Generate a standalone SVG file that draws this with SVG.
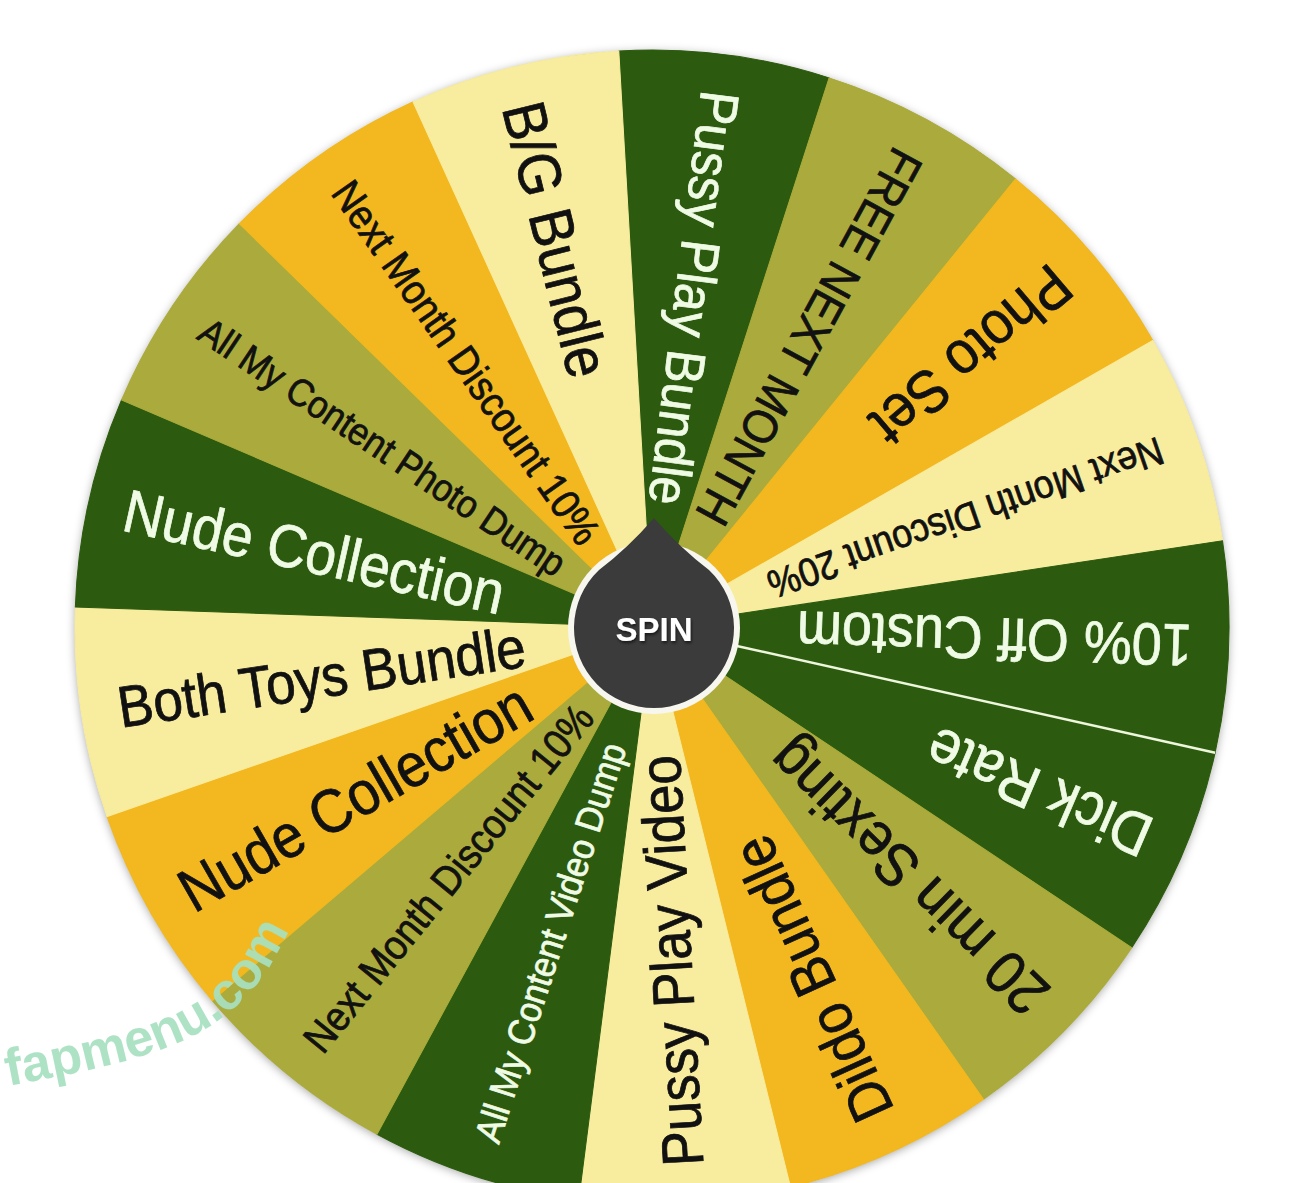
<svg xmlns="http://www.w3.org/2000/svg" width="1298" height="1183" viewBox="0 0 1298 1183">
  <style>
    .lbl text { font-family: "Liberation Sans", Arial, sans-serif; stroke-width: 0.7; }
    .dk { fill: #f0fbe6; stroke: #f0fbe6; }
    .bk { fill: #111111; stroke: #111111; }
    .s-dg { fill: #2c5b10; stroke: #2c5b10; stroke-width: 1; }
    .s-ol { fill: #abab3d; stroke: #abab3d; stroke-width: 1; }
    .s-or { fill: #f3b81f; stroke: #f3b81f; stroke-width: 1; }
    .s-ly { fill: #f8ec9f; stroke: #f8ec9f; stroke-width: 1; }
  </style>
  <defs>
    <path id="wedge" d="M0 0 L0 -577 A577 577 0 0 1 208.44 -538.04 Z"/>
    <filter id="wshadow" x="-10%" y="-10%" width="120%" height="120%">
      <feDropShadow dx="0" dy="2" stdDeviation="5" flood-color="#000" flood-opacity="0.35"/>
    </filter>
    <filter id="tshadow" x="-20%" y="-40%" width="140%" height="180%">
      <feDropShadow dx="1" dy="2" stdDeviation="1.5" flood-color="#000" flood-opacity="0.6"/>
    </filter>
    <path id="wm" d="M 8 1086 C 170 1055 250 1040 300 902"/>
  </defs>
  <rect width="1298" height="1183" fill="#ffffff"/>

  <g id="wheel">
    <circle cx="652" cy="627" r="577" fill="#abab3d" filter="url(#wshadow)"/>
    <g id="slices" transform="translate(652 627)">
      <use href="#wedge" class="s-dg" transform="rotate(-3.3)"/>
      <use href="#wedge" class="s-ol" transform="rotate(17.876)"/>
      <use href="#wedge" class="s-or" transform="rotate(39.053)"/>
      <use href="#wedge" class="s-ly" transform="rotate(60.229)"/>
      <use href="#wedge" class="s-dg" transform="rotate(81.406)"/>
      <use href="#wedge" class="s-dg" transform="rotate(102.582)"/>
      <use href="#wedge" class="s-ol" transform="rotate(123.759)"/>
      <use href="#wedge" class="s-or" transform="rotate(144.935)"/>
      <use href="#wedge" class="s-ly" transform="rotate(166.112)"/>
      <use href="#wedge" class="s-dg" transform="rotate(187.288)"/>
      <use href="#wedge" class="s-ol" transform="rotate(208.465)"/>
      <use href="#wedge" class="s-or" transform="rotate(229.641)"/>
      <use href="#wedge" class="s-ly" transform="rotate(250.818)"/>
      <use href="#wedge" class="s-dg" transform="rotate(271.994)"/>
      <use href="#wedge" class="s-ol" transform="rotate(293.171)"/>
      <use href="#wedge" class="s-or" transform="rotate(314.347)"/>
      <use href="#wedge" class="s-ly" transform="rotate(335.524)"/>
    </g>
  </g>

  <g id="connectors">
    <line x1="0" y1="-80" x2="0" y2="-577" stroke="#eef6dc" stroke-width="2.5" transform="translate(652 627) rotate(102.582)"/>
  </g>

  <g id="labels" class="lbl">
    <g id="n0" transform="translate(652 627) rotate(97.29) scale(1 1.1)"><text class="dk" x="-540" y="0" dy="0.35em" font-size="50">Pussy Play Bundle</text></g>
    <g id="n1" transform="translate(652 627) rotate(118.46) scale(1 1.1)"><text class="bk" x="-540" y="0" dy="0.35em" font-size="44">FREE NEXT MONTH</text></g>
    <g id="n2" transform="translate(652 627) rotate(139.64) scale(1 1.1)"><text class="bk" x="-540" y="0" dy="0.35em" font-size="55">Photo Set</text></g>
    <g id="n3" transform="translate(652 627) rotate(160.82) scale(1 1.1)"><text class="bk" x="-540" y="0" dy="0.35em" font-size="36">Next Month Discount 20%</text></g>
    <g id="n4" transform="translate(652 627) rotate(181.99) scale(1 1.1)"><text class="dk" x="-540" y="0" dy="0.35em" font-size="54">10% Off Custom</text></g>
    <g id="n5" transform="translate(652 627) rotate(203.17) scale(1 1.1)"><text class="dk" x="-540" y="0" dy="0.35em" font-size="55">Dick Rate</text></g>
    <g id="n6" transform="translate(652 627) rotate(224.35) scale(1 1.1)"><text class="bk" x="-540" y="0" dy="0.35em" font-size="55">20 min Sexting</text></g>
    <g id="n7" transform="translate(652 627) rotate(245.52) scale(1 1.1)"><text class="bk" x="-540" y="0" dy="0.35em" font-size="54">Dildo Bundle</text></g>
    <g id="n8" transform="translate(652 627) rotate(266.70) scale(1 1.1)"><text class="bk" x="-540" y="0" dy="0.35em" font-size="53">Pussy Play Video</text></g>
    <g id="n9" transform="translate(652 627) rotate(287.88) scale(1 1.1)"><text class="dk" x="-540" y="0" dy="0.35em" font-size="34">All My Content Video Dump</text></g>
    <g id="n10" transform="translate(652 627) rotate(309.05) scale(1 1.1)"><text class="bk" x="-540" y="0" dy="0.35em" font-size="37.5">Next Month Discount 10%</text></g>
    <g id="n11" transform="translate(652 627) rotate(330.23) scale(1 1.1)"><text class="bk" x="-540" y="0" dy="0.35em" font-size="56">Nude Collection</text></g>
    <g id="n12" transform="translate(652 627) rotate(351.41) scale(1 1.1)"><text class="bk" x="-540" y="0" dy="0.35em" font-size="53">Both Toys Bundle</text></g>
    <g id="n13" transform="translate(652 627) rotate(12.58) scale(1 1.1)"><text class="dk" x="-540" y="0" dy="0.35em" font-size="55">Nude Collection</text></g>
    <g id="n14" transform="translate(652 627) rotate(33.76) scale(1 1.1)"><text class="bk" x="-540" y="0" dy="0.35em" font-size="35">All My Content Photo Dump</text></g>
    <g id="n15" transform="translate(652 627) rotate(54.94) scale(1 1.1)"><text class="bk" x="-540" y="0" dy="0.35em" font-size="37.5">Next Month Discount 10%</text></g>
    <g id="n16" transform="translate(652 627) rotate(76.11) scale(1 1.1)"><text class="bk" x="-540" y="0" dy="0.35em" font-size="55">B/G Bundle</text></g>
  </g>

  <g id="spin">
    <circle cx="654" cy="628" r="86" fill="#f7f7ef"/>
    <path d="M654 518 Q 680 548 709 570 A80 80 0 1 1 599 570 Q 628 548 654 518 Z" fill="#3b3b3b"/>
    <text x="654" y="641" text-anchor="middle" font-family="Liberation Sans, Arial, sans-serif" font-weight="bold" font-size="33" fill="#ffffff" filter="url(#tshadow)">SPIN</text>
  </g>

  <g id="watermark">
    <text font-family="Liberation Sans, Arial, sans-serif" font-weight="bold" font-size="52" fill="#a6e0c0" fill-opacity="0.92"><textPath href="#wm">fapmenu.com</textPath></text>
  </g>
</svg>
